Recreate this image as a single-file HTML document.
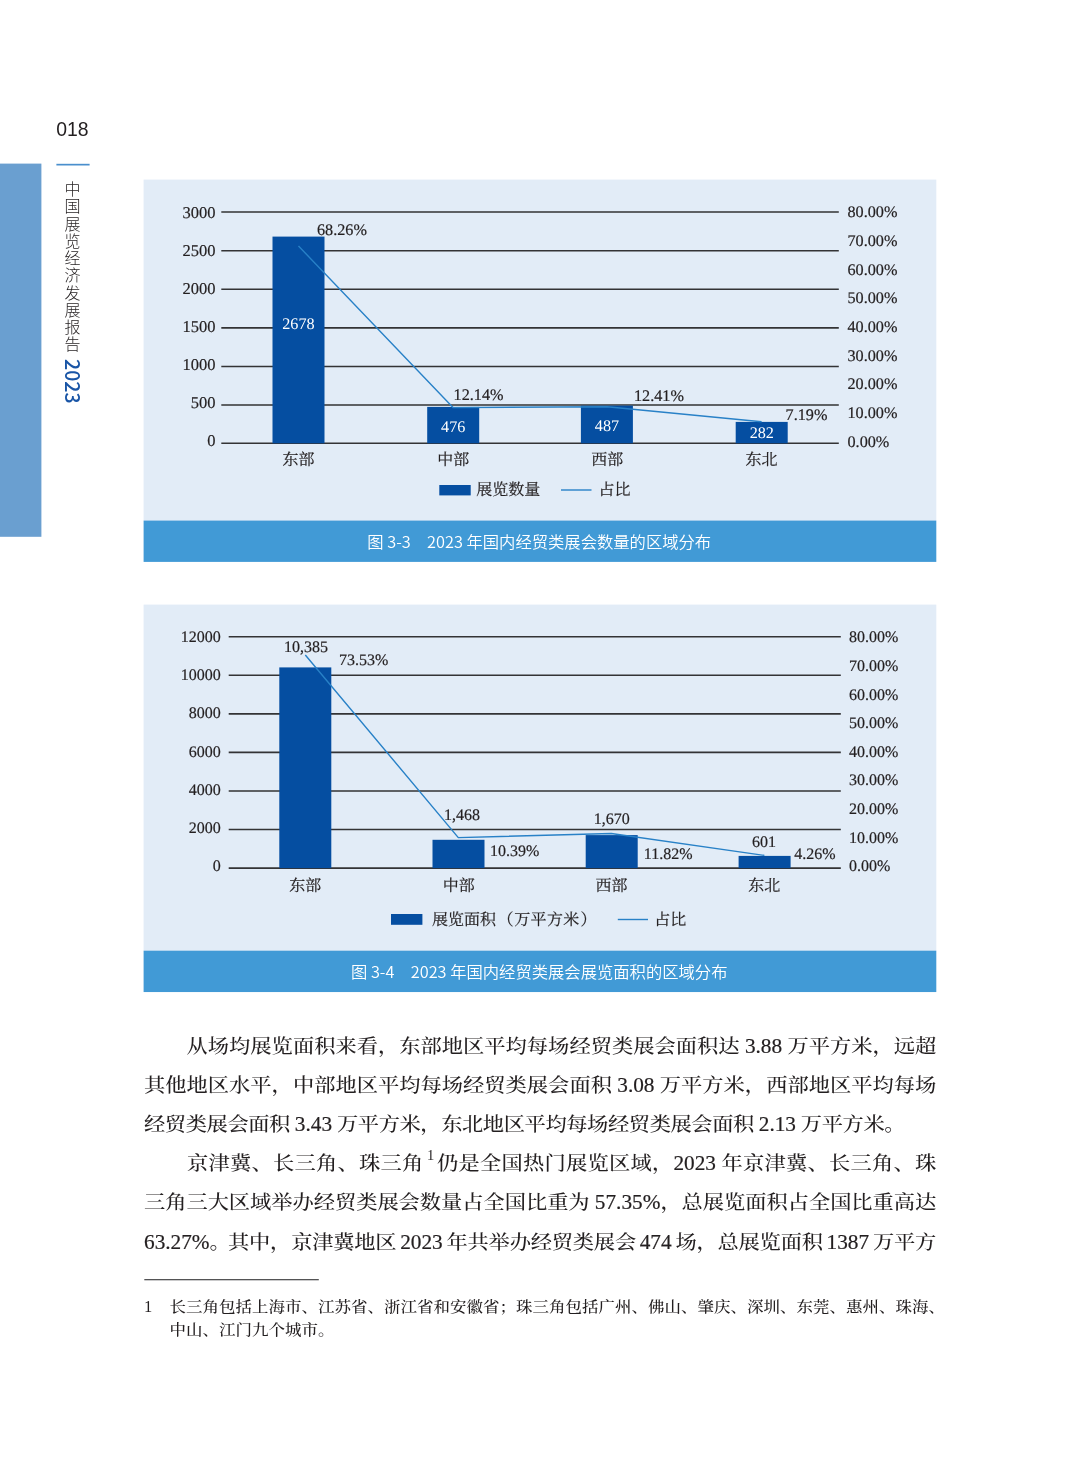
<!DOCTYPE html>
<html lang="zh-CN">
<head>
<meta charset="utf-8">
<title>中国展览经济发展报告 2023 - 018</title>
<style>
html,body{margin:0;padding:0;background:#fff;}
body{width:1080px;height:1465px;position:relative;overflow:hidden;color:#231f20;
  font-family:"Liberation Serif","Noto Serif CJK SC",serif;}
.abs{position:absolute;}
.pageno{left:56.2px;top:118px;font:19.4px/22px "Liberation Sans","Noto Sans CJK SC",sans-serif;color:#231f20;}
.vtitle{left:61.4px;top:180.5px;width:22px;writing-mode:vertical-rl;text-orientation:mixed;
  font:300 16px/22px "Noto Sans CJK SC","Liberation Sans",sans-serif;letter-spacing:1.25px;white-space:nowrap;color:#231f20;}
.vtitle b{font-weight:500;font-size:19.6px;color:#1955a6;letter-spacing:0;position:relative;left:0.9px;top:0.8px;}
.cap{left:142.9px;width:792.7px;height:41.2px;color:#fff;text-align:center;
  font:350 16.32px/41.2px "Noto Sans CJK SC","Liberation Sans",sans-serif;white-space:pre;}
svg{position:absolute;left:0;top:0;}
svg text{font-family:"Liberation Serif","Noto Serif CJK SC",serif;font-size:16px;fill:#231f20;stroke:#231f20;stroke-width:0.2px;text-rendering:geometricPrecision;}
svg g[font-size] text{font-size:inherit;}
svg text.w{fill:#fff;stroke:none;}
.body{left:144px;width:792.3px;font-size:21.27px;font-weight:500;line-height:39.2px;white-space:nowrap;text-align:left;color:#231f20;
  transform:scaleY(0.89);transform-origin:0 26.5px;}
.body .n{font-weight:400;-webkit-text-stroke:0.22px #231f20;display:inline-block;line-height:39.2px;letter-spacing:0;transform:scaleY(1.1236);transform-origin:0 26.5px;}
.body .fnref{font-size:14.5px;-webkit-text-stroke:0;position:relative;top:-11.1px;margin:0 2.6px 0 3.6px;}
.fn{left:144px;font-size:16.5px;font-weight:500;line-height:23.4px;white-space:nowrap;color:#231f20;}
.fn.sq{transform:scaleY(0.9);transform-origin:0 17.5px;}
</style>
</head>
<body>
<svg width="1080" height="1465" viewBox="0 0 1080 1465">
 <rect x="0" y="163.6" width="41.4" height="373.2" fill="#6a9fd0"/>
 <rect x="56.4" y="163.8" width="33.2" height="1.7" fill="#4a8fcd"/>
 <rect x="143.6" y="179.6" width="792.7" height="341.5" fill="#e2ecf7"/>
 <rect x="143.6" y="520.6" width="792.7" height="41.3" fill="#419ad6"/>
 <rect x="143.6" y="604.6" width="792.7" height="346.6" fill="#e2ecf7"/>
 <rect x="143.6" y="950.7" width="792.7" height="41.35" fill="#419ad6"/>
 <rect x="144.3" y="1279.2" width="174.5" height="1.05" fill="#2a2a2c"/>
 <g stroke="#333335" stroke-width="1.6" fill="none">
  <path d="M221.3 212.00H838.8M221.3 250.75H838.8M221.3 289.30H838.8M221.3 327.90H838.8M221.3 366.50H838.8M221.3 405.05H838.8M221.3 443.30H838.8"/>
  <path d="M228.7 636.70H840.8M228.7 675.27H840.8M228.7 713.84H840.8M228.7 752.41H840.8M228.7 790.98H840.8M228.7 829.55H840.8M228.7 868.12H840.8"/>
 </g>
 <g fill="#054ea1">
  <rect x="272.5" y="236.6" width="52" height="206.70"/>
  <rect x="427.2" y="406.9" width="52" height="36.40"/>
  <rect x="580.9" y="405.6" width="52" height="37.70"/>
  <rect x="735.7" y="421.9" width="52" height="21.40"/>
  <rect x="279.3" y="667.4" width="52" height="200.72"/>
  <rect x="432.5" y="839.8" width="52" height="28.32"/>
  <rect x="585.7" y="835.1" width="52" height="33.02"/>
  <rect x="738.6" y="855.9" width="52" height="12.22"/>
  <rect x="439.3" y="485" width="31.4" height="10.4"/>
  <rect x="391" y="914" width="31.4" height="10.8"/>
 </g>
 <g stroke="#2881c7" stroke-width="1.4" fill="none" stroke-linejoin="round">
  <path d="M298.5 246L453 407.6L607 406.8L761.6 421.8"/>
  <path d="M305.3 655L458.3 837.6L611.3 833.5L764.4 855.4"/>
  <path d="M561 490H591.5"/>
  <path d="M617.8 919.5H648"/>
 </g>
 <g font-size="16.5">
  <text x="215.5" y="218.4" text-anchor="end">3000</text>
  <text x="215.5" y="256.4" text-anchor="end">2500</text>
  <text x="215.5" y="294.4" text-anchor="end">2000</text>
  <text x="215.5" y="332.4" text-anchor="end">1500</text>
  <text x="215.5" y="370.4" text-anchor="end">1000</text>
  <text x="215.5" y="408.4" text-anchor="end">500</text>
  <text x="215.5" y="446.4" text-anchor="end">0</text>
 </g>
 <g font-size="16.2">
  <text x="847.5" y="217.1">80.00%</text>
  <text x="847.5" y="245.8">70.00%</text>
  <text x="847.5" y="274.5">60.00%</text>
  <text x="847.5" y="303.2">50.00%</text>
  <text x="847.5" y="331.9">40.00%</text>
  <text x="847.5" y="360.6">30.00%</text>
  <text x="847.5" y="389.3">20.00%</text>
  <text x="847.5" y="418.0">10.00%</text>
  <text x="847.5" y="446.7">0.00%</text>
  <text x="317.0" y="234.8">68.26%</text>
  <text x="298.4" y="328.8" text-anchor="middle" class="w">2678</text>
  <text x="453.6" y="399.5">12.14%</text>
  <text x="453.2" y="432.2" text-anchor="middle" class="w">476</text>
  <text x="634.0" y="401.3">12.41%</text>
  <text x="607.0" y="431.3" text-anchor="middle" class="w">487</text>
  <text x="785.6" y="420.1">7.19%</text>
  <text x="761.8" y="438.0" text-anchor="middle" class="w">282</text>
 </g>
 <g>
  <text x="298.4" y="464.5" text-anchor="middle">东部</text>
  <text x="453.2" y="464.5" text-anchor="middle">中部</text>
  <text x="607.2" y="464.5" text-anchor="middle">西部</text>
  <text x="761.5" y="464.5" text-anchor="middle">东北</text>
  <text x="476.3" y="494.8">展览数量</text>
  <text x="598.5" y="494.8">占比</text>
  <text x="220.7" y="641.7" text-anchor="end">12000</text>
  <text x="220.7" y="680.0" text-anchor="end">10000</text>
  <text x="220.7" y="718.3" text-anchor="end">8000</text>
  <text x="220.7" y="756.5" text-anchor="end">6000</text>
  <text x="220.7" y="794.8" text-anchor="end">4000</text>
  <text x="220.7" y="833.1" text-anchor="end">2000</text>
  <text x="220.7" y="871.4" text-anchor="end">0</text>
  <text x="849.0" y="642.4">80.00%</text>
  <text x="849.0" y="671.0">70.00%</text>
  <text x="849.0" y="699.6">60.00%</text>
  <text x="849.0" y="728.2">50.00%</text>
  <text x="849.0" y="756.8">40.00%</text>
  <text x="849.0" y="785.4">30.00%</text>
  <text x="849.0" y="814.0">20.00%</text>
  <text x="849.0" y="842.6">10.00%</text>
  <text x="849.0" y="871.2">0.00%</text>
  <text x="284.0" y="652.4">10,385</text>
  <text x="339.0" y="665.1">73.53%</text>
  <text x="444.0" y="819.7">1,468</text>
  <text x="490.0" y="856.2">10.39%</text>
  <text x="593.8" y="824.4">1,670</text>
  <text x="643.8" y="858.7">11.82%</text>
  <text x="752.0" y="846.7">601</text>
  <text x="794.2" y="859.4">4.26%</text>
  <text x="305.3" y="890.5" text-anchor="middle">东部</text>
  <text x="458.8" y="890.5" text-anchor="middle">中部</text>
  <text x="611.6" y="890.5" text-anchor="middle">西部</text>
  <text x="764.2" y="890.5" text-anchor="middle">东北</text>
  <text x="431.9" y="924.5">展览面积<tspan x="497.5">（</tspan><tspan x="514.3" letter-spacing="0.3">万平方米</tspan><tspan x="580.5">）</tspan></text>
  <text x="654.3" y="924.5">占比</text>
 </g>
</svg>

<div class="abs pageno">018</div>
<div class="abs vtitle">中国展览经济发展报告 <b>2023</b></div>
<div class="abs cap" style="top:520.7px;">图 3-3　2023 年国内经贸类展会数量的区域分布</div>
<div class="abs cap" style="top:950.8px;">图 3-4　2023 年国内经贸类展会展览面积的区域分布</div>

<div class="abs body" style="top:1026.5px;letter-spacing:0.004px;">　　从场均展览面积来看，东部地区平均每场经贸类展会面积达 <span class="n">3.88</span> 万平方米，远超</div>
<div class="abs body" style="top:1065.7px;letter-spacing:0.004px;">其他地区水平，中部地区平均每场经贸类展会面积 <span class="n">3.08</span> 万平方米，西部地区平均每场</div>
<div class="abs body last" style="top:1104.9px;letter-spacing:-0.42px;">经贸类展会面积 <span class="n">3.43</span> 万平方米，东北地区平均每场经贸类展会面积 <span class="n">2.13</span> 万平方米。</div>
<div class="abs body" style="top:1144.1px;letter-spacing:0.235px;">　　京津冀、长三角、珠三角<span class="n fnref">1</span>仍是全国热门展览区域，<span class="n">2023</span> 年京津冀、长三角、珠</div>
<div class="abs body" style="top:1183.3px;letter-spacing:-0.048px;">三角三大区域举办经贸类展会数量占全国比重为 <span class="n">57.35%</span>，总展览面积占全国比重高达</div>
<div class="abs body" style="top:1222.5px;word-spacing:-1.3px;letter-spacing:-0.219px;"><span class="n">63.27%</span><span style="margin-right:-2.6px">。</span>其中，京津冀地区 <span class="n">2023</span> 年共举办经贸类展会 <span class="n">474</span> 场，总展览面积 <span class="n">1387</span> 万平方</div>
<div class="abs fn" style="top:1294.5px;">1</div>
<div class="abs fn sq" style="left:169.6px;top:1294.5px;">长三角包括上海市、江苏省、浙江省和安徽省；珠三角包括广州、佛山、肇庆、深圳、东莞、惠州、珠海、</div>
<div class="abs fn sq" style="left:169.6px;top:1317.9px;">中山、江门九个城市。</div>

</body>
</html>
